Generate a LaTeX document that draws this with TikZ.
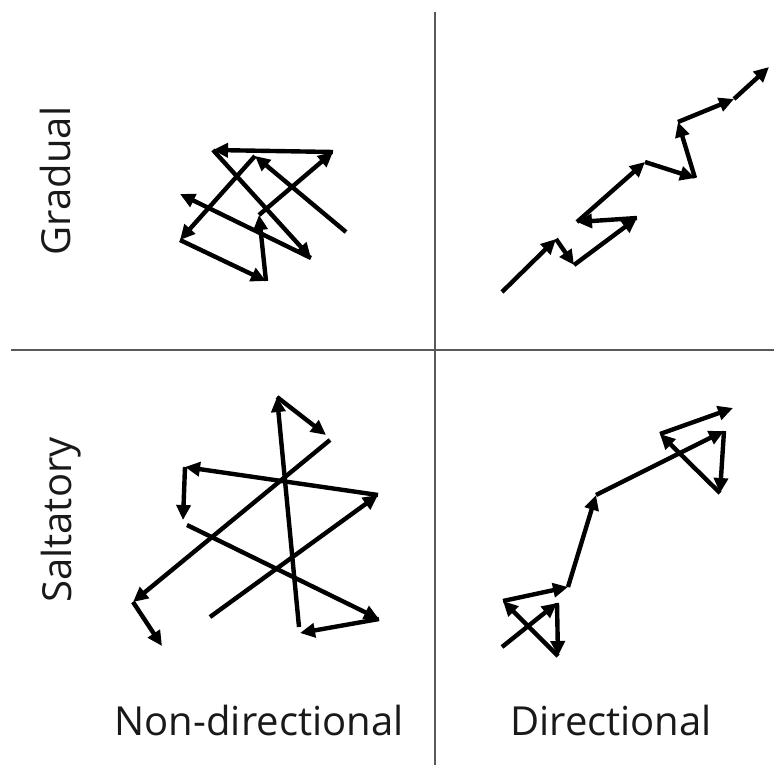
\documentclass[tikz,border=0pt]{standalone}
\usepackage{fontspec}
\setmainfont{Open Sans}
\usetikzlibrary{arrows.meta}
\begin{document}
\begin{tikzpicture}[x=1pt,y=-1pt,
  walk/.style={line width=4.4pt, -{Triangle[length=15pt,width=14pt]}},
  divider/.style={draw=black!65, line width=1.8pt},
  axislabel/.style={font=\fontsize{40}{47}\selectfont, text=black!90}]
\useasboundingbox (0,0) rectangle (774,765);
% the two dividing lines
\coordinate (top) at (435,12);
\coordinate (bottom) at (435,765);
\coordinate (left) at (11,350);
\coordinate (right) at (774,350);
\draw[divider] (top) -- (bottom);
\draw[divider] (left) -- (right);
% labels
\node[axislabel, rotate=90, anchor=base] (gradual) at (70,181) {Gradual};
\node[axislabel, rotate=90, anchor=base] (saltatory) at (71,520) {Saltatory};
\node[axislabel, anchor=base] (nondir) at (259,735) {Non-directional};
\node[axislabel, anchor=base] (dir) at (611,735) {Directional};
% gradual, non-directional
\coordinate (g1) at (346,232);
\coordinate (g2) at (255,156);
\coordinate (g3) at (180,240);
\coordinate (g4) at (266,281);
\coordinate (g5) at (259,215);
\coordinate (g6) at (333,152);
\coordinate (g7) at (213,150);
\coordinate (g8) at (311,258);
\coordinate (g9) at (180,194);
\foreach \a/\b in {g1/g2,g2/g3,g3/g4,g4/g5,g5/g6,g6/g7,g7/g8,g8/g9}
  \draw[walk] (\a) -- (\b);
% gradual, directional
\coordinate (a1) at (502,292);
\coordinate (a2) at (556,239);
\coordinate (a3) at (574,265);
\coordinate (a4) at (637,218);
\coordinate (a5) at (577,222);
\coordinate (a6) at (645,162);
\coordinate (a7) at (695,178);
\coordinate (a8) at (678,122);
\coordinate (a9) at (734,99);
\coordinate (a10) at (769,67);
\foreach \a/\b in {a1/a2,a2/a3,a3/a4,a4/a5,a5/a6,a6/a7,a7/a8,a8/a9,a9/a10}
  \draw[walk] (\a) -- (\b);
% saltatory, non-directional
\coordinate (s1) at (210,617);
\coordinate (s2) at (378,495);
\coordinate (s3) at (185,467);
\coordinate (s4) at (183,520);
\coordinate (s5) at (187,525);
\coordinate (s6) at (379,619);
\coordinate (s7) at (300,633);
\coordinate (s8) at (299,627);
\coordinate (s9) at (277,397);
\coordinate (s10) at (326,435);
\coordinate (s11) at (330,440);
\coordinate (s12) at (133,602);
\coordinate (s13) at (162,646);
\foreach \a/\b in {s1/s2,s2/s3,s3/s4,s5/s6,s6/s7,s8/s9,s9/s10,s11/s12,s12/s13}
  \draw[walk] (\a) -- (\b);
% saltatory, directional
\coordinate (t1) at (502,647);
\coordinate (t2) at (557,603);
\coordinate (t3) at (558,656);
\coordinate (t4) at (503,601);
\coordinate (t5) at (568,587);
\coordinate (t6) at (596,495);
\coordinate (t7) at (724,431);
\coordinate (t8) at (720,493);
\coordinate (t9) at (660,434);
\coordinate (t10) at (733,408);
\foreach \a/\b in {t1/t2,t2/t3,t3/t4,t4/t5,t5/t6,t6/t7,t7/t8,t8/t9,t9/t10}
  \draw[walk] (\a) -- (\b);
\end{tikzpicture}
\end{document}
